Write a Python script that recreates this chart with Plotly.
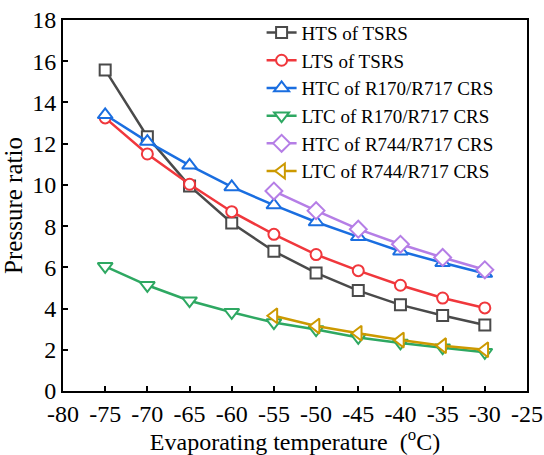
import plotly.graph_objects as go

temps = [-75, -70, -65, -60, -55, -50, -45, -40, -35, -30]
temps_r744 = [-55, -50, -45, -40, -35, -30]

hts_tsrs = [15.58, 12.34, 9.95, 8.15, 6.78, 5.73, 4.87, 4.18, 3.66, 3.2]
lts_tsrs = [13.25, 11.5, 10.03, 8.7, 7.6, 6.62, 5.84, 5.13, 4.51, 4.03]
htc_r170 = [13.4, 12.1, 10.95, 9.9, 9.02, 8.2, 7.48, 6.78, 6.22, 5.7]
ltc_r170 = [6.05, 5.13, 4.38, 3.82, 3.32, 2.98, 2.6, 2.33, 2.1, 1.88]
htc_r744 = [9.7, 8.75, 7.85, 7.12, 6.48, 5.88]
ltc_r744 = [3.65, 3.15, 2.8, 2.47, 2.2, 2.0]

x_tickvals = [-80, -75, -70, -65, -60, -55, -50, -45, -40, -35, -30, -25]
x_ticktext = ["-80", "-75", "-70", "-65", "-60", "-55", "-50", "-45", "-40", "-35", "-30", "-25"]
y_tickvals = [0, 2, 4, 6, 8, 10, 12, 14, 16, 18]
y_ticktext = ["0", "2", "4", "6", "8", "10", "12", "14", "16", "18"]

series = [
    ("HTS of TSRS", temps, hts_tsrs, "#4a4a4a", "square"),
    ("LTS of TSRS", temps, lts_tsrs, "#f0373c", "circle"),
    ("HTC of R170/R717 CRS", temps, htc_r170, "#1a6ee0", "triangle-up"),
    ("LTC of R170/R717 CRS", temps, ltc_r170, "#2ea862", "triangle-down"),
    ("HTC of R744/R717 CRS", temps_r744, htc_r744, "#b57ee6", "diamond"),
    ("LTC of R744/R717 CRS", temps_r744, ltc_r744, "#cc9900", "triangle-left"),
]

fig = go.Figure()
for name, xs, ys, col, sym in series:
    size = 11 if sym in ("square", "circle") else 13
    fig.add_trace(go.Scatter(
        x=xs, y=ys, name=name, mode="lines+markers",
        line=dict(color=col, width=2.5),
        marker=dict(symbol=sym, size=size, color="white",
                    line=dict(color=col, width=2)),
    ))

font_family = "Liberation Serif, Times New Roman, DejaVu Serif, serif"
fig.update_layout(
    width=544, height=455,
    margin=dict(l=63, r=17, t=20, b=64, autoexpand=False),
    paper_bgcolor="white", plot_bgcolor="white",
    font=dict(family=font_family, color="black"),
    showlegend=True,
    legend=dict(x=0.428, y=1.017, xanchor="left", yanchor="top",
                bgcolor="rgba(0,0,0,0)", font=dict(size=19, family=font_family),
                tracegroupgap=0),
    xaxis=dict(range=[-80, -25], tickvals=x_tickvals, ticktext=x_ticktext,
               ticks="inside", ticklen=5, tickwidth=2, tickcolor="black",
               showline=True, linewidth=2, linecolor="black", mirror=True,
               showgrid=False, zeroline=False, automargin=False,
               ticklabeloverflow="allow",
               tickfont=dict(size=24, family=font_family),
               title=dict(text="Evaporating temperature  (<sup>o</sup>C)",
                          font=dict(size=24, family=font_family), standoff=4)),
    yaxis=dict(range=[0, 18], tickvals=y_tickvals, ticktext=y_ticktext,
               ticks="inside", ticklen=5, tickwidth=2, tickcolor="black",
               showline=True, linewidth=2, linecolor="black", mirror=True,
               showgrid=False, zeroline=False, automargin=False,
               ticklabeloverflow="allow",
               tickfont=dict(size=24, family=font_family),
               title=dict(text="Pressure ratio",
                          font=dict(size=25, family=font_family), standoff=6)),
)

fig.write_html("out.html")
